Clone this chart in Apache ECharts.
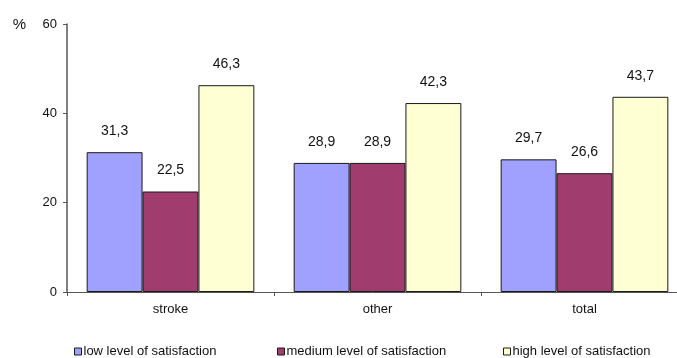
<!DOCTYPE html>
<html>
<head>
<meta charset="utf-8">
<script src="https://cdn.jsdelivr.net/npm/echarts@6/dist/echarts.min.js"></script>
<style>
  html, body { margin: 0; padding: 0; background: #fff; }
  #chart { width: 677px; height: 358px; }
</style>
</head>
<body>
<div id="chart"></div>
<script>
// Satisfaction levels by patient group (percent)
const categories = ['stroke', 'other', 'total'];
const lowValues = [31.3, 28.9, 29.7];
const mediumValues = [22.5, 28.9, 26.6];
const highValues = [46.3, 42.3, 43.7];
const seriesNames = ['low level of satisfaction', 'medium level of satisfaction', 'high level of satisfaction'];
const yTicks = [0, 20, 40, 60];

const colors = ['#A0A0FF', '#A03C6E', '#FFFFD4'];
const font = 'Liberation Sans, Arial, sans-serif';
const axisColor = '#555';

const chart = echarts.init(document.getElementById('chart'));

function barSeries(name, values, color) {
  return {
    name: name,
    type: 'bar',
    data: values,
    barGap: '0%',
    barCategoryGap: '19%',
    itemStyle: { color: color, borderColor: '#1a1a1a', borderWidth: 1 },
    label: {
      show: true,
      position: 'top',
      distance: 14,
      fontFamily: font,
      fontSize: 14,
      color: '#111',
      formatter: p => String(p.value).replace('.', ',')
    },
    emphasis: { disabled: true }
  };
}

function legendFor(name, left) {
  return {
    data: [name],
    left: left,
    top: 345,
    itemWidth: 7,
    itemHeight: 7,
    itemGap: 4,
    icon: 'rect',
    itemStyle: { borderColor: '#1a1a1a', borderWidth: 1 },
    textStyle: { fontFamily: font, fontSize: 13, color: '#111', padding: [0, 0, 0, -3] },
    selectedMode: false,
    padding: 0
  };
}

chart.setOption({
  animation: false,
  // plot area runs slightly past the right edge of the canvas
  grid: { left: 67, top: 24, bottom: 66, width: 621, containLabel: false, outerBoundsMode: 'none' },
  legend: [
    legendFor(seriesNames[0], 74),
    legendFor(seriesNames[1], 277),
    legendFor(seriesNames[2], 503)
  ],
  xAxis: {
    type: 'category',
    data: categories,
    axisLine: { lineStyle: { color: axisColor, width: 1 } },
    axisTick: { show: true, length: 4, lineStyle: { color: axisColor } },
    axisLabel: { fontFamily: font, fontSize: 13, color: '#111', margin: 11 }
  },
  yAxis: {
    type: 'value',
    min: yTicks[0],
    max: yTicks[yTicks.length - 1],
    interval: 20,
    name: '%',
    nameLocation: 'end',
    nameGap: -1,
    nameTextStyle: { fontFamily: font, fontSize: 15, color: '#111', align: 'right', verticalAlign: 'middle', padding: [0, 41, 0, 0] },
    axisLine: { show: true, lineStyle: { color: axisColor, width: 1.5 } },
    axisTick: { show: true, length: 4, lineStyle: { color: axisColor } },
    axisLabel: { fontFamily: font, fontSize: 13, color: '#111', margin: 10 },
    splitLine: { show: false }
  },
  series: [
    barSeries(seriesNames[0], lowValues, colors[0]),
    barSeries(seriesNames[1], mediumValues, colors[1]),
    barSeries(seriesNames[2], highValues, colors[2])
  ]
});
</script>
</body>
</html>
